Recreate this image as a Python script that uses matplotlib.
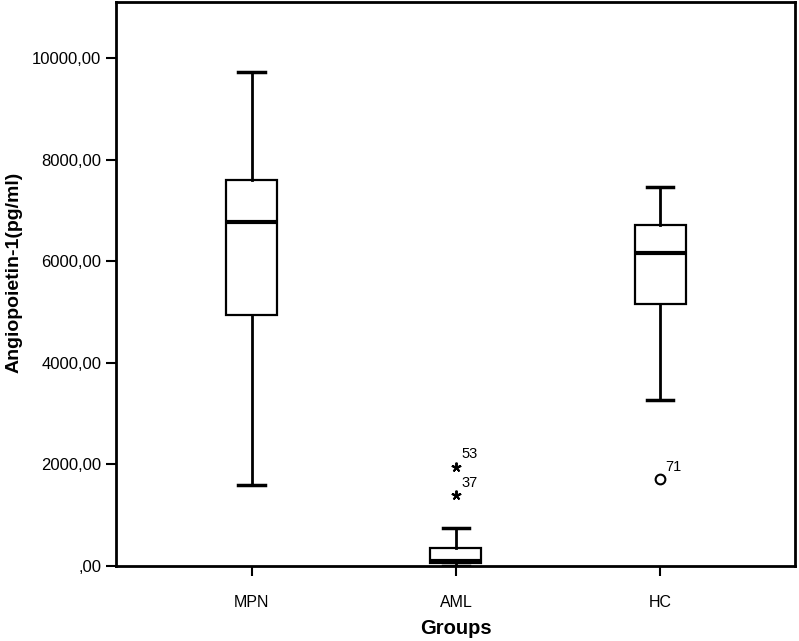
import matplotlib
matplotlib.use("Agg")
import matplotlib.pyplot as plt

plt.rcParams['font.family'] = ['Liberation Sans', 'DejaVu Sans']

groups = ["MPN", "AML", "HC"]
whislo = [1600, 0, 3270]
q1 = [4940, 55, 5150]
med = [6770, 90, 6160]
q3 = [7600, 345, 6720]
whishi = [9720, 750, 7450]

# outliers: (group index, value, case label, kind)
out_group = [2, 2, 3]
out_value = [1950, 1390, 1710]
out_label = ["53", "37", "71"]
out_kind = ["extreme", "extreme", "outlier"]

yticks = [0, 2000, 4000, 6000, 8000, 10000]
ytick_labels = [",00", "2000,00", "4000,00", "6000,00", "8000,00", "10000,00"]

fig = plt.figure(figsize=(7.99, 6.41), dpi=100)
ax = fig.add_axes([0.1452, 0.117, 0.8498, 0.8799])

stats = []
for i, g in enumerate(groups):
    stats.append(dict(label=g, whislo=whislo[i], q1=q1[i], med=med[i],
                      q3=q3[i], whishi=whishi[i], fliers=[]))

ax.bxp(stats, positions=[1, 2, 3], widths=0.25, showfliers=False,
       patch_artist=True,
       boxprops=dict(facecolor="white", edgecolor="black", linewidth=1.6),
       medianprops=dict(color="black", linewidth=3.0),
       whiskerprops=dict(color="black", linewidth=2.0),
       capprops=dict(color="black", linewidth=2.5),
       capwidths=0.13)

for gi, v, lab, kind in zip(out_group, out_value, out_label, out_kind):
    if kind == "extreme":
        ax.plot([gi], [v], marker=(5, 2, 0), markersize=7, color="black",
                markeredgewidth=1.4, linestyle="none")
    else:
        ax.plot([gi], [v], marker="o", markersize=7, markerfacecolor="white",
                markeredgecolor="black", markeredgewidth=1.5, linestyle="none")
    ax.annotate(lab, (gi, v), xytext=(4, 4), textcoords="offset points",
                fontsize=10.5, color="black", ha="left", va="bottom")

ax.set_xlim(0.336, 3.66)
ax.set_ylim(0, 11100)
ax.set_yticks(yticks)
ax.set_yticklabels(ytick_labels)
ax.set_xticks([1, 2, 3])
ax.set_xticklabels(groups)
ax.tick_params(axis="both", direction="out", length=7, width=1.5,
               labelsize=12, colors="black")
ax.tick_params(axis="x", pad=14, labelsize=11.5)
for s in ax.spines.values():
    s.set_linewidth(2)
    s.set_color("black")

ax.set_xlabel("Groups", fontsize=14.5, fontweight="bold", va="center")
ax.xaxis.set_label_coords(0.5, -0.110)
ax.set_ylabel("Angiopoietin-1(pg/ml)", fontsize=14, fontweight="bold", va="center")
ax.yaxis.set_label_coords(-0.150, 0.521)

fig.savefig("out.png", dpi=100)
